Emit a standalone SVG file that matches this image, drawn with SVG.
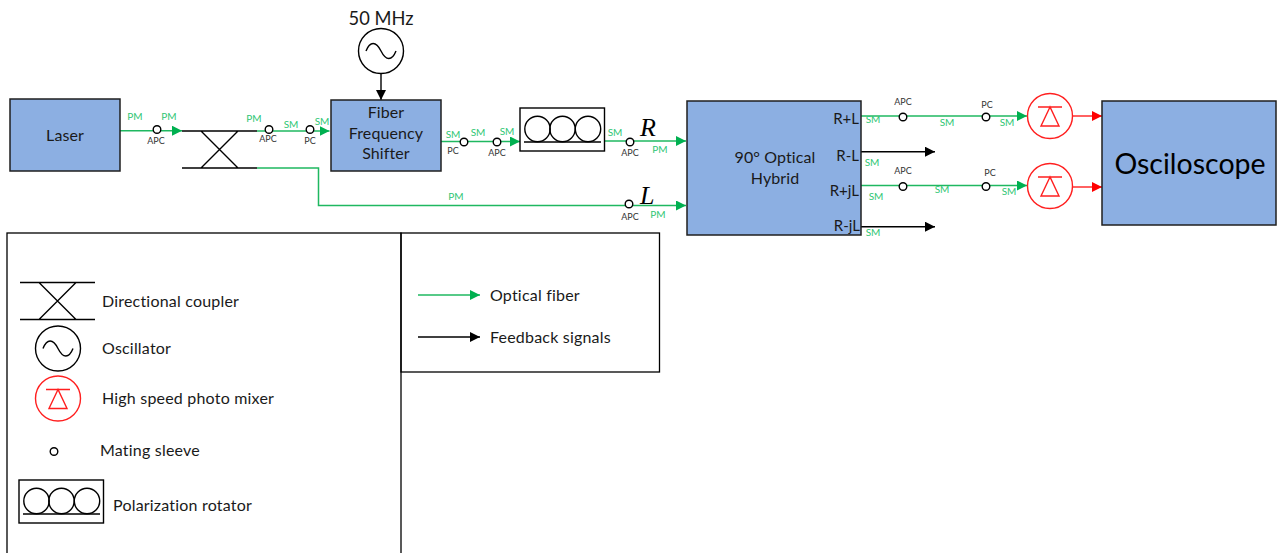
<svg xmlns="http://www.w3.org/2000/svg" width="1280" height="553" viewBox="0 0 1280 553">
<style>
text{font-family:"Lato","Open Sans","Liberation Sans",sans-serif;fill:#1a1a1a}
.m{text-anchor:middle}
.box{fill:#8cafe2;stroke:#1f1f1f;stroke-width:1.5}
.t{font-size:16px;letter-spacing:.1px}
.p{font-size:15px;text-anchor:end}
.l{font-size:16px;letter-spacing:.2px}
.sm{font-size:10px;fill:#2fc674}
.k{font-size:9px;fill:#333}
.g{fill:none;stroke:#1fb860;stroke-width:1.5}
.b{fill:none;stroke:#000;stroke-width:1.4}
.r{fill:none;stroke:#ff1f1f;stroke-width:1.4}
.ms{fill:#fff;stroke:#000;stroke-width:1.4}
.i{font-family:"Liberation Serif",serif;font-style:italic;font-size:26px;fill:#000}
</style>
<defs>
<marker id="ag" markerUnits="userSpaceOnUse" markerWidth="11" markerHeight="11" refX="10" refY="5" orient="auto"><path d="M0,0L10,5L0,10Z" fill="#00b050"/></marker>
<marker id="ak" markerUnits="userSpaceOnUse" markerWidth="11" markerHeight="11" refX="10" refY="5" orient="auto"><path d="M0,0L10,5L0,10Z" fill="#000"/></marker>
<marker id="ar" markerUnits="userSpaceOnUse" markerWidth="11" markerHeight="11" refX="10" refY="5" orient="auto"><path d="M0,0L10,5L0,10Z" fill="#f00"/></marker>
<g id="coupler-shape" class="b"><path d="M0,0H75M0,37H75M19,0L56,37M56,0L19,37"/></g>
<g id="osc-shape"><circle r="22.5" fill="#fff" stroke="#000" stroke-width="1.4"/><path class="b" d="M-15,0C-11,-10 -5,-10 0,0C5,10 11,10 15,0"/></g>
<g id="pd-shape"><circle r="22.5" fill="#fff" stroke="#ff1f1f" stroke-width="1.4"/><path class="r" d="M-12,-9H12M0,-9L-9,10H9Z"/></g>
<g id="pr-shape"><rect width="84.5" height="43" fill="#fff" stroke="#000" stroke-width="1.4"/><g class="b"><circle cx="17.500" cy="21" r="12.700"/><circle cx="42.500" cy="21" r="12.700"/><circle cx="68" cy="21" r="12.700"/><path d="M4,34H81"/></g></g>
</defs>

<g id="connectors">
<path class="g" d="M120,130.700H182" marker-end="url(#ag)"/>
<path class="g" d="M257,131H329.500" marker-end="url(#ag)"/>
<path class="g" d="M257,168H318.500V205.500H686" marker-end="url(#ag)"/>
<path class="b" d="M381,74V100" marker-end="url(#ak)"/>
<path class="g" d="M441,141.500H520" marker-end="url(#ag)"/>
<path class="g" d="M605,141H686" marker-end="url(#ag)"/>
<path class="g" d="M861,116H1027" marker-end="url(#ag)"/>
<path class="g" d="M861,185.500H1027" marker-end="url(#ag)"/>
<path class="b" d="M861,151.700H935" marker-end="url(#ak)" stroke-width="1.6"/>
<path class="b" d="M861,226.700H935" marker-end="url(#ak)"/>
<path class="r" d="M1073,116H1102" marker-end="url(#ar)"/>
<path class="r" d="M1073,187H1102" marker-end="url(#ar)"/>
</g>

<g id="laser"><rect class="box" x="10" y="99" width="110" height="72"/><text class="t m" x="65" y="141">Laser</text></g>
<g id="coupler"><use href="#coupler-shape" x="182" y="131"/></g>
<g id="oscillator"><text x="381" y="25" class="m" style="font-size:18.300px">50 MHz</text><use href="#osc-shape" x="381" y="51"/></g>
<g id="shifter"><rect class="box" x="331" y="100" width="110" height="71"/><text class="t m" x="386" y="118">Fiber</text><text class="t m" x="386" y="139">Frequency</text><text class="t m" x="386" y="159">Shifter</text></g>
<g id="rotator"><use href="#pr-shape" x="520" y="108"/></g>
<g id="hybrid"><rect class="box" x="687" y="101" width="174" height="134"/><text class="t m" x="775" y="163">90° Optical</text><text class="t m" x="775" y="184">Hybrid</text>
<text class="p" x="859" y="124">R+L</text><text class="p" x="859" y="161">R-L</text><text class="p" x="859" y="196">R+jL</text><text class="p" x="860" y="231">R-jL</text></g>
<g id="detector1"><use href="#pd-shape" x="1050" y="116"/></g>
<g id="detector2"><use href="#pd-shape" x="1050" y="186"/></g>
<g id="oscilloscope"><rect class="box" x="1102" y="101" width="174" height="124"/><text x="1190" y="174" class="m" style="font-size:28.500px;fill:#000">Osciloscope</text></g>

<g id="sleeves">
<circle class="ms" cx="157" cy="129.500" r="3.800"/><circle class="ms" cx="269" cy="129.500" r="3.800"/><circle class="ms" cx="310" cy="129.500" r="3.800"/>
<circle class="ms" cx="464" cy="142" r="3.800"/><circle class="ms" cx="497" cy="142" r="3.800"/><circle class="ms" cx="630" cy="142" r="3.800"/><circle class="ms" cx="629" cy="204" r="3.800"/>
<circle class="ms" cx="903" cy="117" r="3.800"/><circle class="ms" cx="986" cy="117" r="3.800"/><circle class="ms" cx="903" cy="186.500" r="3.800"/><circle class="ms" cx="986" cy="186.500" r="3.800"/>
</g>
<g id="labels">
<text class="sm m" x="135" y="120">PM</text><text class="sm m" x="169" y="120">PM</text><text class="sm m" x="254" y="122">PM</text><text class="sm m" x="291" y="128">SM</text><text class="sm m" x="322" y="125">SM</text>
<text class="k m" x="156" y="144">APC</text><text class="k m" x="268" y="142">APC</text><text class="k m" x="310" y="144">PC</text>
<text class="sm m" x="453" y="138">SM</text><text class="sm m" x="478" y="136">SM</text><text class="sm m" x="507" y="135">SM</text><text class="sm m" x="615" y="136">SM</text><text class="sm m" x="660" y="153">PM</text><text class="sm m" x="456" y="200">PM</text><text class="sm m" x="658" y="218">PM</text>
<text class="k m" x="453" y="154">PC</text><text class="k m" x="497" y="156">APC</text><text class="k m" x="630" y="156">APC</text><text class="k m" x="630" y="220">APC</text>
<text class="i" x="640" y="136">R</text><text class="i" x="640" y="204">L</text>
<text class="sm m" x="873" y="123">SM</text><text class="sm m" x="872" y="166">SM</text><text class="sm m" x="876" y="200">SM</text><text class="sm m" x="873" y="236">SM</text>
<text class="sm m" x="947" y="126">SM</text><text class="sm m" x="942" y="193">SM</text><text class="sm m" x="1007" y="126">SM</text><text class="sm m" x="1009" y="195">SM</text>
<text class="k m" x="903" y="105">APC</text><text class="k m" x="903" y="174">APC</text><text class="k m" x="987" y="108">PC</text><text class="k m" x="990" y="176">PC</text>
</g>

<g id="legend">
<rect x="7" y="233" width="394" height="330" fill="none" stroke="#000" stroke-width="1.3"/>
<rect x="401" y="233" width="258.500" height="139" fill="none" stroke="#000" stroke-width="1.3"/>
<use href="#coupler-shape" x="20" y="282.500"/><text class="l" x="102" y="307">Directional coupler</text>
<use href="#osc-shape" x="58" y="348.500"/><text class="l" x="102" y="354">Oscillator</text>
<use href="#pd-shape" x="58" y="398.500"/><text class="l" x="102" y="404">High speed photo mixer</text>
<circle class="ms" cx="54" cy="451.500" r="3.800"/><text class="l" x="100" y="456">Mating sleeve</text>
<use href="#pr-shape" x="19" y="480"/><text class="l" x="113" y="511">Polarization rotator</text>
<path class="g" d="M418,295H480" marker-end="url(#ag)"/><text class="l" x="490" y="301">Optical fiber</text>
<path class="b" d="M418,337H480" marker-end="url(#ak)"/><text class="l" x="490" y="343">Feedback signals</text>
</g>
</svg>
